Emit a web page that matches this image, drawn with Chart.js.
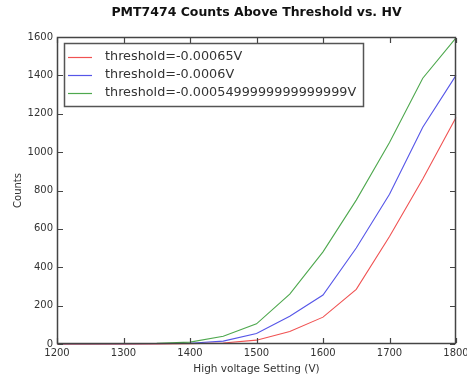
<!DOCTYPE html>
<html>
<head>
<meta charset="utf-8">
<script src="https://cdn.jsdelivr.net/npm/chart.js@4/dist/chart.umd.min.js"></script>
<style>
  html, body { margin: 0; padding: 0; background: #fff; }
  #wrap { width: 467px; height: 379px; }
</style>
</head>
<body>
<div id="wrap"><canvas id="myChart" width="467" height="379"></canvas></div>
<script>
// HV scan, counts above each discriminator threshold
const voltages = [1200, 1250, 1300, 1350, 1400, 1450, 1500, 1550, 1600, 1650, 1700, 1750, 1800]
const counts065 = [0, 0, 0, 0, 1, 5, 20, 65, 140, 285, 560, 860, 1180]
const counts060 = [0, 0, 0, 1, 4, 15, 55, 145, 255, 500, 780, 1130, 1400]
const counts055 = [0, 0, 1, 3, 10, 40, 105, 260, 480, 750, 1050, 1385, 1595]
const seriesLabels = ['threshold=-0.00065V', 'threshold=-0.0006V', 'threshold=-0.0005499999999999999V']
const seriesColors = ['#f05252', '#5656e8', '#4ea84e']
const xTicks = [1200, 1300, 1400, 1500, 1600, 1700, 1800]
const yTicks = [0, 200, 400, 600, 800, 1000, 1200, 1400, 1600]

const ctx = document.getElementById('myChart')
const font = 'DejaVu Sans'

const toPoints = (ys) => voltages.map((v, i) => ({ x: v, y: ys[i] }))

// frame on all four sides, inward tick marks, then the boxed legend
const framePlugin = {
    id: 'axesFrame',
    afterDraw(chart) {
        const c = chart.ctx
        const a = chart.chartArea
        const sx = chart.scales.x
        const sy = chart.scales.y
        const L = Math.round(a.left), T = Math.round(a.top)
        const R = Math.round(a.right), B = Math.round(a.bottom)
        c.save()
        c.strokeStyle = '#444'
        c.lineWidth = 1.5
        c.strokeRect(L + 0.5, T + 0.5, R - L - 1, B - T - 1)
        c.lineWidth = 1.2
        c.beginPath()
        xTicks.forEach(t => {
            const x = Math.round(sx.getPixelForValue(t)) + 0.5
            c.moveTo(x, B - 1); c.lineTo(x, B - 6)
            c.moveTo(x, T + 1); c.lineTo(x, T + 6)
        })
        yTicks.forEach(t => {
            const y = Math.round(sy.getPixelForValue(t)) + 0.5
            c.moveTo(L + 1, y); c.lineTo(L + 6, y)
            c.moveTo(R - 1, y); c.lineTo(R - 6, y)
        })
        c.stroke()

        const left = L + 7, top = T + 6
        const w = 299, h = 63, rowH = 18
        c.fillStyle = '#fff'
        c.fillRect(left, top, w, h)
        c.strokeStyle = '#555'
        c.lineWidth = 1.5
        c.strokeRect(left + 0.5, top + 0.5, w, h)
        c.font = '12.8px ' + font
        c.textBaseline = 'middle'
        chart.data.datasets.forEach((ds, i) => {
            const y = top + 14 + i * rowH
            c.strokeStyle = ds.borderColor
            c.lineWidth = 1.2
            c.beginPath()
            c.moveTo(left + 4, y + 0.5)
            c.lineTo(left + 28, y + 0.5)
            c.stroke()
            c.fillStyle = '#333'
            c.fillText(ds.label, left + 41, y)
        })
        c.restore()
    }
}

new Chart(ctx, {
    type: 'line',
    data: {
        datasets: [counts065, counts060, counts055].map((ys, i) => ({
            label: seriesLabels[i],
            data: toPoints(ys),
            borderColor: seriesColors[i],
            borderWidth: 1.1,
            pointRadius: 0,
            tension: 0,
            fill: false,
            clip: 2
        }))
    },
    options: {
        responsive: false,
        animation: false,
        layout: { padding: { top: 0, right: 0, bottom: 0, left: 0 } },
        plugins: {
            legend: { display: false },
            tooltip: { enabled: false },
            title: {
                display: true,
                fullSize: false,
                text: 'PMT7474 Counts Above Threshold vs. HV',
                color: '#111',
                font: { family: font, size: 12.5, weight: 'bold' },
                padding: { top: 5, bottom: 17 }
            }
        },
        scales: {
            x: {
                type: 'linear',
                min: 1200,
                max: 1800,
                afterFit: (s) => {
                    s.height = 35
                    s.paddingLeft = 0
                    s.paddingRight = 11
                },
                afterBuildTicks: (s) => { s.ticks = xTicks.map(v => ({ value: v })) },
                grid: { display: false, drawTicks: false },
                border: { display: false },
                ticks: {
                    color: '#333',
                    padding: 3,
                    maxRotation: 0,
                    font: { family: font, size: 10 },
                    callback: (v) => String(v)
                },
                title: {
                    display: true,
                    text: 'High voltage Setting (V)',
                    color: '#333',
                    font: { family: font, size: 10.5 },
                    padding: { top: 2, bottom: 3 }
                }
            },
            y: {
                min: 0,
                max: 1600,
                afterFit: (s) => { s.width = 57 },
                afterBuildTicks: (s) => { s.ticks = yTicks.map(v => ({ value: v })) },
                grid: { display: false, drawTicks: false },
                border: { display: false },
                ticks: {
                    color: '#333',
                    padding: 4,
                    font: { family: font, size: 10 },
                    callback: (v) => String(v)
                },
                title: {
                    display: true,
                    text: 'Counts',
                    color: '#333',
                    font: { family: font, size: 10 },
                    padding: { top: 12, bottom: 4 }
                }
            }
        }
    },
    plugins: [framePlugin]
})
</script>
</body>
</html>
